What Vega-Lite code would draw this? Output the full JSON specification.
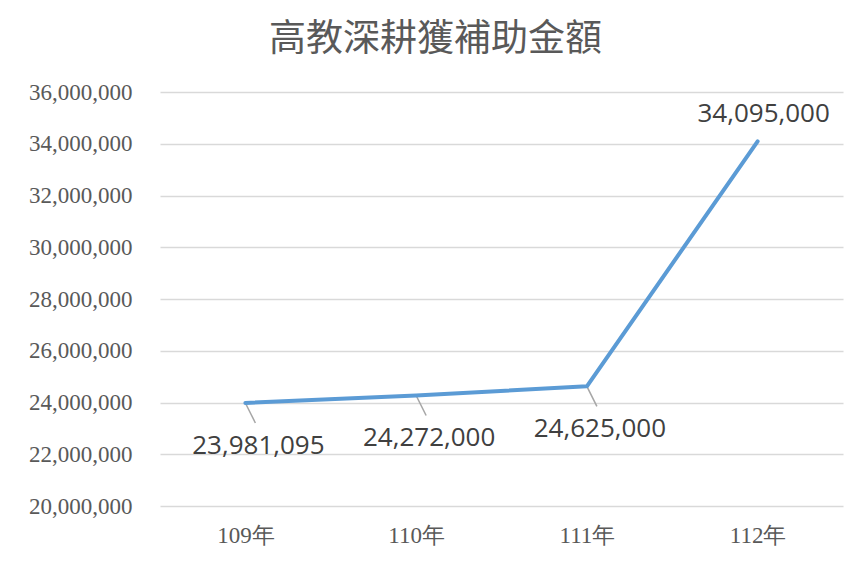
{
  "$schema": "https://vega.github.io/schema/vega-lite/v6.json",
  "width": 683,
  "height": 414,
  "autosize": "none",
  "padding": {"left": 160, "top": 92, "right": 23, "bottom": 61},
  "background": "white",
  "config": {"view": {"stroke": null}},
  "title": {
    "text": "高教深耕獲補助金額",
    "font": "Noto Sans CJK TC",
    "fontSize": 37,
    "fontWeight": "normal",
    "color": "#595959",
    "anchor": "middle",
    "dx": -66,
    "offset": 22
  },
  "data": {
    "values": [
      {"year": "109年", "amount": 23981095},
      {"year": "110年", "amount": 24272000},
      {"year": "111年", "amount": 24625000},
      {"year": "112年", "amount": 34095000}
    ]
  },
  "encoding": {
    "x": {
      "field": "year",
      "type": "ordinal",
      "sort": null,
      "scale": {"type": "point", "padding": 0.5},
      "axis": {
        "title": null,
        "labelAngle": 0,
        "labelFont": "Liberation Serif",
        "labelFontSize": 23,
        "labelColor": "#595959",
        "labelPadding": 18,
        "domain": false,
        "ticks": false,
        "grid": false
      }
    },
    "y": {
      "field": "amount",
      "type": "quantitative",
      "scale": {"domain": [20000000, 36000000], "nice": false, "zero": false},
      "axis": {
        "title": null,
        "values": [20000000, 22000000, 24000000, 26000000, 28000000, 30000000, 32000000, 34000000, 36000000],
        "format": ",d",
        "labelFont": "Liberation Serif",
        "labelFontSize": 23,
        "labelColor": "#595959",
        "labelPadding": 28,
        "domain": false,
        "ticks": false,
        "grid": true,
        "gridColor": "#d9d9d9",
        "gridWidth": 1.5
      }
    }
  },
  "layer": [
    {
      "transform": [{"filter": "datum.year != '112年'"}],
      "mark": {"type": "rule", "color": "#a6a6a6", "strokeWidth": 1.5, "x2Offset": 10, "y2Offset": 20},
      "encoding": {
        "x2": {"field": "year"},
        "y2": {"field": "amount"}
      }
    },
    {
      "mark": {"type": "line", "color": "#5b9bd5", "strokeWidth": 4, "strokeCap": "round", "strokeJoin": "round"}
    },
    {
      "transform": [{"filter": "datum.year != '112年'"}],
      "mark": {"type": "text", "font": "Open Sans", "fontSize": 26, "color": "#404040", "baseline": "middle", "dx": 13, "dy": 43},
      "encoding": {"text": {"field": "amount", "type": "quantitative", "format": ",d"}}
    },
    {
      "transform": [{"filter": "datum.year == '112年'"}],
      "mark": {"type": "text", "font": "Open Sans", "fontSize": 26, "color": "#404040", "baseline": "middle", "dx": 6, "dy": -27},
      "encoding": {"text": {"field": "amount", "type": "quantitative", "format": ",d"}}
    }
  ]
}
